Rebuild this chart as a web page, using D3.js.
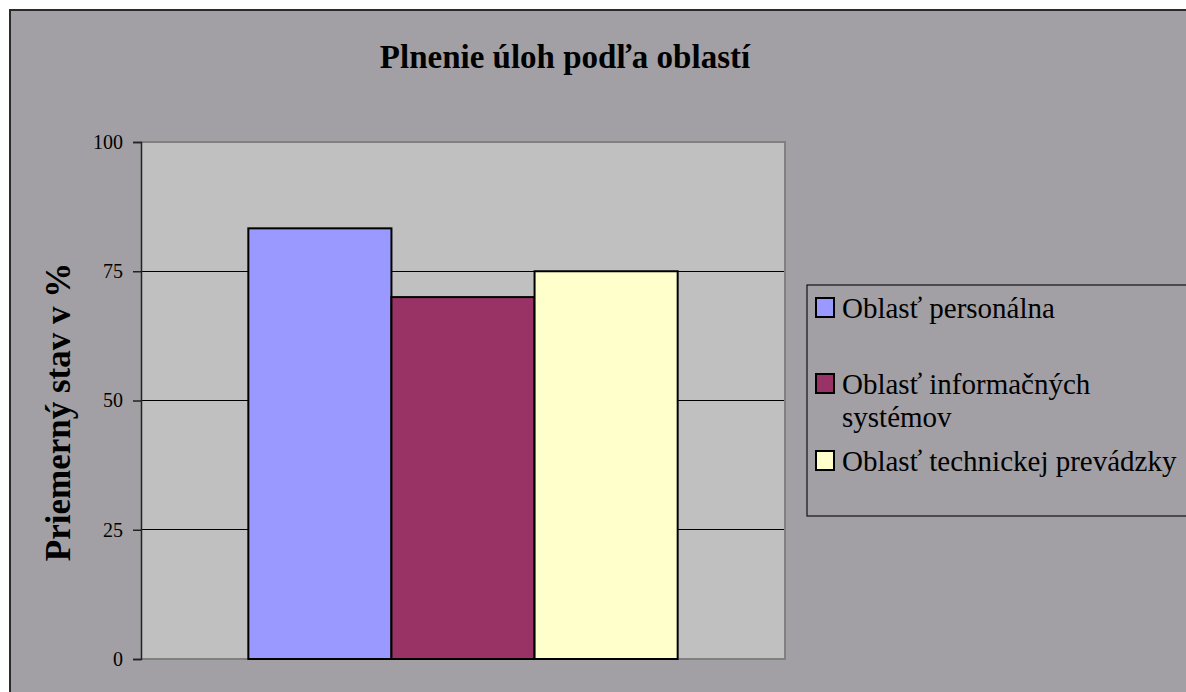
<!DOCTYPE html>
<html>
<head>
<meta charset="utf-8">
<script src="https://cdn.jsdelivr.net/npm/d3@7"></script>
<style>
  html, body { margin: 0; padding: 0; background: #ffffff; }
  svg { display: block; }
</style>
</head>
<body>
<svg id="chart" width="1186" height="692"></svg>
<script>
const title = "Plnenie úloh podľa oblastí";
const yTitle = "Priemerný stav v %";
const categories = ["Plnenie"];
const seriesNames = ["Oblasť personálna", "Oblasť informačných systémov", "Oblasť technickej prevádzky"];
const seriesLegendLines = [["Oblasť personálna"], ["Oblasť informačných", "systémov"], ["Oblasť technickej prevádzky"]];
const seriesValues = [83.3, 70, 75];
const seriesColors = ["#9999ff", "#993366", "#ffffcc"];
const yTicks = [0, 25, 50, 75, 100];

const svg = d3.select("#chart");
const W = 1186, H = 692;
const bg = "#a2a0a5";
const serif = "'Liberation Serif', 'Times New Roman', serif";

// chart frame
svg.append("rect").attr("x", 10).attr("y", 10).attr("width", W + 20).attr("height", H + 20)
  .attr("fill", bg).attr("stroke", "#2a2a2a").attr("stroke-width", 2);

const plot = { left: 141, right: 785, top: 142, bottom: 659 };

const y = d3.scaleLinear().domain([0, 100]).range([plot.bottom, plot.top]);
const x0 = d3.scaleBand().domain(categories).range([plot.left, plot.right]).paddingInner(0).paddingOuter(0.25);
const x1 = d3.scaleBand().domain(seriesNames).range([0, x0.bandwidth()]).padding(0);

// plot area
svg.append("rect").attr("x", plot.left).attr("y", plot.top)
  .attr("width", plot.right - plot.left).attr("height", plot.bottom - plot.top)
  .attr("fill", "#c0c0c0");

// gridlines
svg.append("g").selectAll("line").data(yTicks.filter(t => t > 0 && t < 100)).join("line")
  .attr("x1", plot.left).attr("x2", plot.right)
  .attr("y1", d => y(d)).attr("y2", d => y(d))
  .attr("stroke", "#000").attr("stroke-width", 1).attr("shape-rendering", "crispEdges");

// plot border (top, right, bottom) gray
svg.append("path")
  .attr("d", `M${plot.left},${plot.top}H${plot.right}V${plot.bottom}H${plot.left}`)
  .attr("fill", "none").attr("stroke", "#808080").attr("stroke-width", 2);

// bars
const g = svg.append("g").attr("transform", `translate(${x0(categories[0])},0)`);
g.selectAll("rect").data(seriesValues).join("rect")
  .attr("x", (d, i) => x1(seriesNames[i]))
  .attr("y", d => y(d))
  .attr("width", x1.bandwidth())
  .attr("height", d => y(0) - y(d))
  .attr("fill", (d, i) => seriesColors[i])
  .attr("stroke", "#000").attr("stroke-width", 2);

// y axis
const yAxis = d3.axisLeft(y).tickValues(yTicks).tickSize(8).tickPadding(10).tickFormat(d3.format("d"));
const ax = svg.append("g").attr("transform", `translate(${plot.left},0)`).call(yAxis);
ax.select(".domain").attr("stroke", "#222").attr("stroke-width", 1.5);
ax.selectAll(".tick line").attr("stroke", "#222").attr("stroke-width", 1.5);
ax.selectAll(".tick text").attr("fill", "#000")
  .style("font-family", serif).style("font-size", "20px");

// title
svg.append("text").attr("x", 565).attr("y", 68).attr("text-anchor", "middle")
  .style("font-family", serif)
  .style("font-weight", "bold").style("font-size", "33px").attr("fill", "#000")
  .text(title);

// y title
svg.append("text").attr("transform", "translate(70,412) rotate(-90)").attr("text-anchor", "middle")
  .style("font-family", serif)
  .style("font-weight", "bold").style("font-size", "35px").attr("fill", "#000")
  .text(yTitle);

// legend
svg.append("rect").attr("x", 807).attr("y", 285).attr("width", 500).attr("height", 231)
  .attr("fill", "none").attr("stroke", "#111").attr("stroke-width", 1.2);
const legendBaselines = [318, 394, 471];
const lg = svg.append("g");
seriesNames.forEach((name, i) => {
  const b = legendBaselines[i];
  lg.append("rect").attr("x", 816).attr("y", b - 20).attr("width", 18).attr("height", 19)
    .attr("fill", seriesColors[i]).attr("stroke", "#000").attr("stroke-width", 2);
  const t = lg.append("text").attr("x", 842).attr("y", b)
    .style("font-family", serif)
    .style("font-size", "29px").attr("fill", "#000");
  seriesLegendLines[i].forEach((line, j) => {
    t.append("tspan").attr("x", 842).attr("dy", j === 0 ? 0 : 33).text(line);
  });
});
</script>
</body>
</html>
